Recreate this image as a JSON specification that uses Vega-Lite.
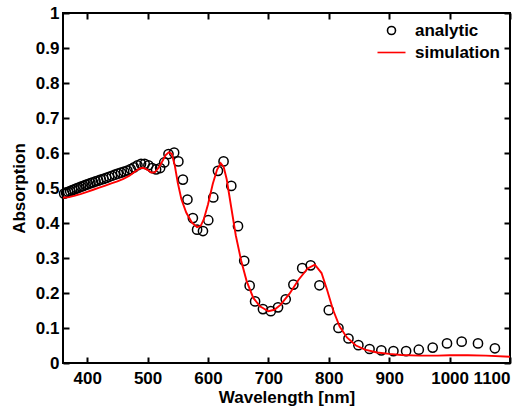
{
  "$schema": "https://vega.github.io/schema/vega-lite/v6.json",
  "width": 447,
  "height": 350,
  "autosize": {"type": "none"},
  "padding": {"left": 63, "top": 13, "right": 21, "bottom": 46},
  "background": "white",
  "config": {
    "font": "Liberation Sans",
    "view": {"stroke": "black", "strokeWidth": 2},
    "axis": {
      "grid": false,
      "domain": false,
      "labelFont": "Liberation Sans",
      "labelFontSize": 17,
      "labelFontWeight": "bold",
      "labelColor": "black",
      "labelOverlap": false,
      "titleFont": "Liberation Sans",
      "titleFontSize": 17,
      "titleFontWeight": "bold",
      "titleColor": "black"
    },
    "legend": {
      "labelFont": "Liberation Sans",
      "labelFontSize": 17,
      "labelFontWeight": "bold",
      "labelColor": "black"
    }
  },
  "datasets": {
    "analytic": [
      {"series": "analytic", "wavelength": 361.9, "absorption": 0.484},
      {"series": "analytic", "wavelength": 365.2, "absorption": 0.486},
      {"series": "analytic", "wavelength": 368.5, "absorption": 0.489},
      {"series": "analytic", "wavelength": 371.9, "absorption": 0.491},
      {"series": "analytic", "wavelength": 375.3, "absorption": 0.494},
      {"series": "analytic", "wavelength": 378.9, "absorption": 0.496},
      {"series": "analytic", "wavelength": 382.5, "absorption": 0.499},
      {"series": "analytic", "wavelength": 386.1, "absorption": 0.501},
      {"series": "analytic", "wavelength": 389.9, "absorption": 0.504},
      {"series": "analytic", "wavelength": 393.7, "absorption": 0.506},
      {"series": "analytic", "wavelength": 397.6, "absorption": 0.509},
      {"series": "analytic", "wavelength": 401.5, "absorption": 0.511},
      {"series": "analytic", "wavelength": 405.5, "absorption": 0.514},
      {"series": "analytic", "wavelength": 409.7, "absorption": 0.516},
      {"series": "analytic", "wavelength": 413.9, "absorption": 0.519},
      {"series": "analytic", "wavelength": 418.2, "absorption": 0.521},
      {"series": "analytic", "wavelength": 422.5, "absorption": 0.524},
      {"series": "analytic", "wavelength": 427.0, "absorption": 0.526},
      {"series": "analytic", "wavelength": 431.6, "absorption": 0.529},
      {"series": "analytic", "wavelength": 436.3, "absorption": 0.532},
      {"series": "analytic", "wavelength": 441.0, "absorption": 0.535},
      {"series": "analytic", "wavelength": 445.9, "absorption": 0.538},
      {"series": "analytic", "wavelength": 450.9, "absorption": 0.541},
      {"series": "analytic", "wavelength": 456.0, "absorption": 0.544},
      {"series": "analytic", "wavelength": 461.2, "absorption": 0.547},
      {"series": "analytic", "wavelength": 466.6, "absorption": 0.550},
      {"series": "analytic", "wavelength": 472.0, "absorption": 0.554},
      {"series": "analytic", "wavelength": 477.6, "absorption": 0.559},
      {"series": "analytic", "wavelength": 483.3, "absorption": 0.565},
      {"series": "analytic", "wavelength": 489.2, "absorption": 0.569},
      {"series": "analytic", "wavelength": 495.2, "absorption": 0.569},
      {"series": "analytic", "wavelength": 501.4, "absorption": 0.565},
      {"series": "analytic", "wavelength": 507.7, "absorption": 0.557},
      {"series": "analytic", "wavelength": 514.1, "absorption": 0.553},
      {"series": "analytic", "wavelength": 520.8, "absorption": 0.557},
      {"series": "analytic", "wavelength": 527.6, "absorption": 0.573},
      {"series": "analytic", "wavelength": 534.6, "absorption": 0.597},
      {"series": "analytic", "wavelength": 544.0, "absorption": 0.601},
      {"series": "analytic", "wavelength": 551.0, "absorption": 0.576},
      {"series": "analytic", "wavelength": 558.5, "absorption": 0.524},
      {"series": "analytic", "wavelength": 566.0, "absorption": 0.467},
      {"series": "analytic", "wavelength": 575.0, "absorption": 0.414},
      {"series": "analytic", "wavelength": 582.0, "absorption": 0.381},
      {"series": "analytic", "wavelength": 591.7, "absorption": 0.377},
      {"series": "analytic", "wavelength": 600.5, "absorption": 0.408},
      {"series": "analytic", "wavelength": 608.8, "absorption": 0.473},
      {"series": "analytic", "wavelength": 616.5, "absorption": 0.549},
      {"series": "analytic", "wavelength": 625.8, "absorption": 0.576},
      {"series": "analytic", "wavelength": 638.6, "absorption": 0.506},
      {"series": "analytic", "wavelength": 649.7, "absorption": 0.391},
      {"series": "analytic", "wavelength": 660.0, "absorption": 0.292},
      {"series": "analytic", "wavelength": 669.0, "absorption": 0.221},
      {"series": "analytic", "wavelength": 678.0, "absorption": 0.176},
      {"series": "analytic", "wavelength": 691.0, "absorption": 0.154},
      {"series": "analytic", "wavelength": 704.0, "absorption": 0.148},
      {"series": "analytic", "wavelength": 716.0, "absorption": 0.159},
      {"series": "analytic", "wavelength": 728.7, "absorption": 0.182},
      {"series": "analytic", "wavelength": 741.4, "absorption": 0.224},
      {"series": "analytic", "wavelength": 756.0, "absorption": 0.271},
      {"series": "analytic", "wavelength": 770.0, "absorption": 0.279},
      {"series": "analytic", "wavelength": 784.5, "absorption": 0.222},
      {"series": "analytic", "wavelength": 800.0, "absorption": 0.151},
      {"series": "analytic", "wavelength": 816.0, "absorption": 0.100},
      {"series": "analytic", "wavelength": 832.6, "absorption": 0.070},
      {"series": "analytic", "wavelength": 849.0, "absorption": 0.051},
      {"series": "analytic", "wavelength": 867.5, "absorption": 0.040},
      {"series": "analytic", "wavelength": 887.0, "absorption": 0.036},
      {"series": "analytic", "wavelength": 907.0, "absorption": 0.034},
      {"series": "analytic", "wavelength": 928.0, "absorption": 0.034},
      {"series": "analytic", "wavelength": 949.0, "absorption": 0.038},
      {"series": "analytic", "wavelength": 972.0, "absorption": 0.044},
      {"series": "analytic", "wavelength": 995.7, "absorption": 0.056},
      {"series": "analytic", "wavelength": 1020.0, "absorption": 0.061},
      {"series": "analytic", "wavelength": 1047.0, "absorption": 0.056},
      {"series": "analytic", "wavelength": 1075.0, "absorption": 0.042}
    ],
    "simulation": [
      {"wavelength": 360, "absorption": 0.472},
      {"wavelength": 370, "absorption": 0.474},
      {"wavelength": 380, "absorption": 0.478},
      {"wavelength": 390, "absorption": 0.483},
      {"wavelength": 400, "absorption": 0.489},
      {"wavelength": 410, "absorption": 0.495},
      {"wavelength": 420, "absorption": 0.501},
      {"wavelength": 430, "absorption": 0.507},
      {"wavelength": 440, "absorption": 0.513},
      {"wavelength": 450, "absorption": 0.519},
      {"wavelength": 460, "absorption": 0.526},
      {"wavelength": 470, "absorption": 0.535},
      {"wavelength": 480, "absorption": 0.548},
      {"wavelength": 487, "absorption": 0.556},
      {"wavelength": 493, "absorption": 0.558},
      {"wavelength": 500, "absorption": 0.552},
      {"wavelength": 506, "absorption": 0.544},
      {"wavelength": 512, "absorption": 0.545},
      {"wavelength": 518, "absorption": 0.557},
      {"wavelength": 524, "absorption": 0.575},
      {"wavelength": 530, "absorption": 0.594},
      {"wavelength": 535, "absorption": 0.602},
      {"wavelength": 540, "absorption": 0.598},
      {"wavelength": 545, "absorption": 0.565},
      {"wavelength": 550, "absorption": 0.515},
      {"wavelength": 556, "absorption": 0.468},
      {"wavelength": 564, "absorption": 0.430},
      {"wavelength": 573, "absorption": 0.402},
      {"wavelength": 582, "absorption": 0.388},
      {"wavelength": 588, "absorption": 0.392},
      {"wavelength": 593, "absorption": 0.410},
      {"wavelength": 600, "absorption": 0.453},
      {"wavelength": 608, "absorption": 0.512},
      {"wavelength": 615, "absorption": 0.552},
      {"wavelength": 621, "absorption": 0.571},
      {"wavelength": 626, "absorption": 0.560},
      {"wavelength": 631, "absorption": 0.525},
      {"wavelength": 638, "absorption": 0.450},
      {"wavelength": 646, "absorption": 0.365},
      {"wavelength": 655, "absorption": 0.292},
      {"wavelength": 664, "absorption": 0.234},
      {"wavelength": 675, "absorption": 0.186},
      {"wavelength": 686, "absorption": 0.162},
      {"wavelength": 700, "absorption": 0.148},
      {"wavelength": 710, "absorption": 0.152},
      {"wavelength": 720, "absorption": 0.166},
      {"wavelength": 735, "absorption": 0.198},
      {"wavelength": 750, "absorption": 0.238},
      {"wavelength": 765, "absorption": 0.270},
      {"wavelength": 777, "absorption": 0.281},
      {"wavelength": 788, "absorption": 0.257},
      {"wavelength": 797, "absorption": 0.210},
      {"wavelength": 807, "absorption": 0.152},
      {"wavelength": 818, "absorption": 0.104},
      {"wavelength": 830, "absorption": 0.073},
      {"wavelength": 845, "absorption": 0.050},
      {"wavelength": 860, "absorption": 0.038},
      {"wavelength": 880, "absorption": 0.030},
      {"wavelength": 900, "absorption": 0.026},
      {"wavelength": 920, "absorption": 0.023},
      {"wavelength": 950, "absorption": 0.021},
      {"wavelength": 980, "absorption": 0.021},
      {"wavelength": 1000, "absorption": 0.022},
      {"wavelength": 1030, "absorption": 0.022},
      {"wavelength": 1060, "absorption": 0.021},
      {"wavelength": 1100, "absorption": 0.018}
    ]
  },
  "layer": [
    {
      "data": {"name": "analytic"},
      "transform": [{"filter": "datum.wavelength < 530"}],
      "mark": {"type": "point", "filled": false, "size": 85, "strokeWidth": 1.5, "opacity": 1},
      "encoding": {
        "x": {
          "field": "wavelength", "type": "quantitative",
          "scale": {"domain": [360, 1100], "nice": false, "zero": false},
          "axis": {"orient": "bottom", "ticks": false, "values": [400, 500, 600, 700, 800, 900, 1000, 1100], "format": "d", "title": "Wavelength [nm]", "labelPadding": 7, "titlePadding": 3}
        },
        "y": {
          "field": "absorption", "type": "quantitative",
          "scale": {"domain": [0, 1], "nice": false},
          "axis": {"orient": "left", "ticks": false, "values": [0, 0.1, 0.2, 0.3, 0.4, 0.5, 0.6, 0.7, 0.8, 0.9, 1], "format": "~g", "title": "Absorption", "labelPadding": 4, "titlePadding": 7}
        },
        "color": {
          "field": "series", "type": "nominal",
          "scale": {"domain": ["analytic", "simulation"], "range": ["black", "red"]},
          "legend": {"title": null, "orient": "top-right", "offset": 9, "symbolSize": 64, "symbolStrokeWidth": 1.6, "labelOffset": 15, "rowPadding": 4, "padding": 0}
        },
        "shape": {
          "field": "series", "type": "nominal",
          "scale": {"domain": ["analytic", "simulation"], "range": ["circle", "M-3.5,0L3.5,0"]},
          "legend": {"title": null, "orient": "top-right", "offset": 9, "symbolSize": 64, "symbolStrokeWidth": 1.6, "labelOffset": 15, "rowPadding": 4, "padding": 0}
        }
      }
    },
    {
      "data": {"name": "analytic"},
      "transform": [{"filter": "datum.wavelength >= 530"}],
      "mark": {"type": "point", "filled": false, "size": 85, "strokeWidth": 1.5, "opacity": 1},
      "encoding": {
        "x": {
          "field": "wavelength", "type": "quantitative",
          "scale": {"domain": [360, 1100], "nice": false, "zero": false},
          "axis": {"orient": "bottom", "offset": -350, "labels": false, "title": null, "ticks": true, "tickSize": 6, "tickColor": "black", "tickWidth": 2, "values": [400, 500, 600, 700, 800, 900, 1000, 1100]}
        },
        "y": {
          "field": "absorption", "type": "quantitative",
          "scale": {"domain": [0, 1], "nice": false},
          "axis": {"orient": "left", "offset": -447, "labels": false, "title": null, "ticks": true, "tickSize": 6, "tickColor": "black", "tickWidth": 2, "values": [0, 0.1, 0.2, 0.3, 0.4, 0.5, 0.6, 0.7, 0.8, 0.9, 1]}
        },
        "color": {
          "field": "series", "type": "nominal",
          "scale": {"domain": ["analytic", "simulation"], "range": ["black", "red"]},
          "legend": {"title": null, "orient": "top-right", "offset": 9, "symbolSize": 64, "symbolStrokeWidth": 1.6, "labelOffset": 15, "rowPadding": 4, "padding": 0}
        },
        "shape": {
          "field": "series", "type": "nominal",
          "scale": {"domain": ["analytic", "simulation"], "range": ["circle", "M-3.5,0L3.5,0"]},
          "legend": {"title": null, "orient": "top-right", "offset": 9, "symbolSize": 64, "symbolStrokeWidth": 1.6, "labelOffset": 15, "rowPadding": 4, "padding": 0}
        }
      }
    },
    {
      "data": {"name": "simulation"},
      "mark": {"type": "line", "color": "red", "strokeWidth": 1.9},
      "encoding": {
        "x": {
          "field": "wavelength", "type": "quantitative",
          "scale": {"domain": [360, 1100], "nice": false, "zero": false},
          "axis": {"orient": "top", "offset": -350, "labels": false, "title": null, "ticks": true, "tickSize": 6, "tickColor": "black", "tickWidth": 2, "values": [400, 500, 600, 700, 800, 900, 1000, 1100]}
        },
        "y": {
          "field": "absorption", "type": "quantitative",
          "scale": {"domain": [0, 1], "nice": false},
          "axis": {"orient": "right", "offset": -447, "labels": false, "title": null, "ticks": true, "tickSize": 6, "tickColor": "black", "tickWidth": 2, "values": [0, 0.1, 0.2, 0.3, 0.4, 0.5, 0.6, 0.7, 0.8, 0.9, 1]}
        }
      }
    }
  ],
  "resolve": {"axis": {"x": "independent", "y": "independent"}}
}
